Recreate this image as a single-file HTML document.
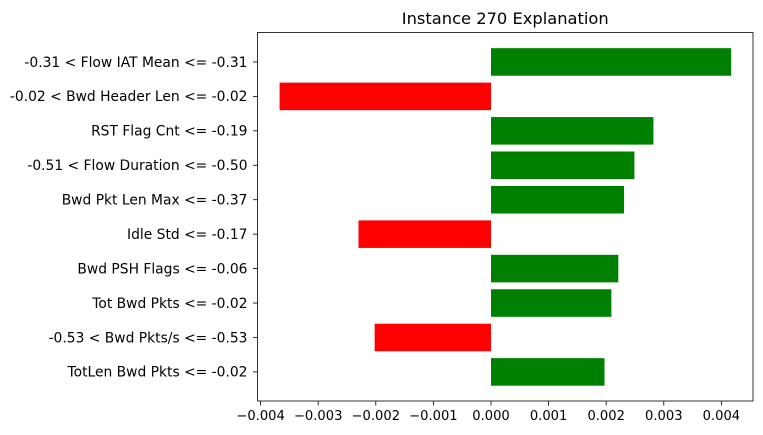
<!DOCTYPE html>
<html><head><meta charset="utf-8"><style>
body{margin:0;background:#fff;}
svg{display:block;font-family:"DejaVu Sans","Liberation Sans",sans-serif;}
</style></head><body>
<svg id="chart" width="763" height="435"></svg>
<script>
const categories = ["-0.31 < Flow IAT Mean <= -0.31","-0.02 < Bwd Header Len <= -0.02","RST Flag Cnt <= -0.19","-0.51 < Flow Duration <= -0.50","Bwd Pkt Len Max <= -0.37","Idle Std <= -0.17","Bwd PSH Flags <= -0.06","Tot Bwd Pkts <= -0.02","-0.53 < Bwd Pkts/s <= -0.53","TotLen Bwd Pkts <= -0.02"];
const values = [0.00417,-0.00367,0.00282,0.00249,0.00231,-0.0023,0.00221,0.00209,-0.00202,0.00197];
const xTicks = [-0.004,-0.003,-0.002,-0.001,0,0.001,0.002,0.003,0.004];
const xTickLabels = ["−0.004","−0.003","−0.002","−0.001","0.000","0.001","0.002","0.003","0.004"];
const titleText = "Instance 270 Explanation";

const NS="http://www.w3.org/2000/svg";
const svg=document.getElementById('chart');
const L=257.5,R=753,T=32.5,B=401;
const x0=491,pxPer=57.6/0.001;
function xs(v){return x0+v*pxPer;}
const n=categories.length;
const band=34.44, yTop=34.4;
function ys(i){return yTop+(i+0.8)*band;}
function mk(tag,attrs,text){const e=document.createElementNS(NS,tag);for(const k in attrs)e.setAttribute(k,attrs[k]);if(text!==undefined)e.textContent=text;svg.appendChild(e);return e;}

values.forEach((v,i)=>{
  const x=Math.min(xs(0),xs(v)),w=Math.abs(xs(v)-xs(0));
  const r=mk('rect',{x:x,y:ys(i)-band*0.4,width:w,height:band*0.8,fill:v>=0?'#008000':'#ff0000'});
  
  
});
const frame=mk('rect',{x:L,y:T,width:R-L,height:B-T,fill:'none',stroke:'#000','stroke-width':0.8});


categories.forEach((c,i)=>{
  mk('line',{x1:L-4.5,x2:L,y1:ys(i),y2:ys(i),stroke:'#000','stroke-width':0.8});
  const t=mk('text',{x:L-10,y:ys(i)+4.8,'text-anchor':'end','font-size':13.85,fill:'#000'},c);
  
  
});
xTicks.forEach((v,i)=>{
  mk('line',{x1:xs(v),x2:xs(v),y1:B,y2:B+4.5,stroke:'#000','stroke-width':0.8});
  const t=mk('text',{x:xs(v),y:B+19,'text-anchor':'middle','font-size':13.1,fill:'#000'},xTickLabels[i]);
  
  
});
const tt=mk('text',{x:(L+R)/2,y:24,'text-anchor':'middle','font-size':16.3,fill:'#000'},titleText);


</script>
</body></html>
